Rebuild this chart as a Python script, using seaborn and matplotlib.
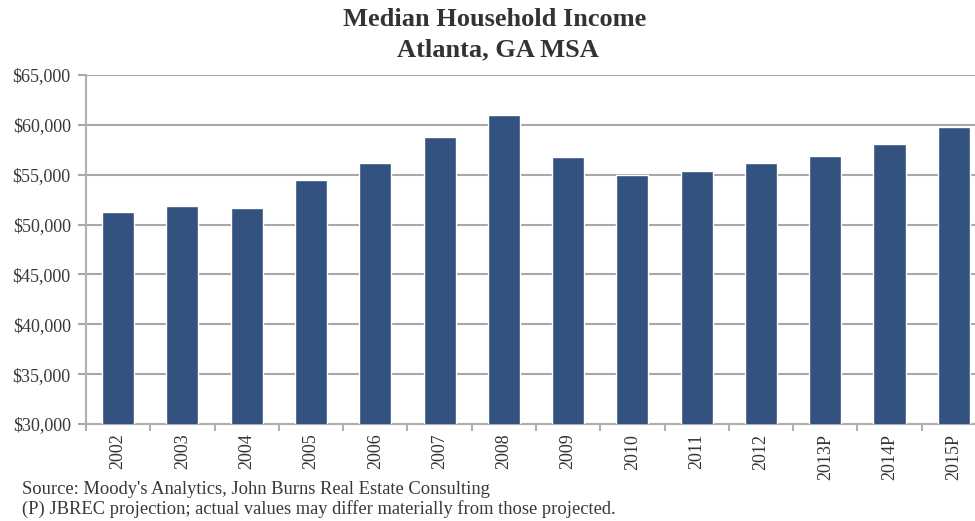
import matplotlib
matplotlib.use("Agg")
import matplotlib.pyplot as plt
import matplotlib.ticker as mticker
import seaborn as sns
import pandas as pd
import numpy as np

# Данные
years = ['2002', '2003', '2004', '2005', '2006', '2007', '2008',
         '2009', '2010', '2011', '2012', '2013P', '2014P', '2015P']
income = [51300, 51900, 51700, 54500, 56200, 58800, 61000,
          56800, 55000, 55400, 56200, 56900, 58100, 59800]

df = pd.DataFrame({'year': years, 'income': income})

sns.set_style('white')
plt.rcParams['font.family'] = ['Liberation Serif', 'DejaVu Serif']

fig = plt.figure(figsize=(9.75, 5.21), dpi=100)
ax = fig.add_axes([86 / 975, 1 - 424 / 521, 900 / 975, 349 / 521])

sns.barplot(data=df, x='year', y='income', color='#33527f', width=0.5,
            saturation=1, ax=ax, zorder=3)

ax.set_ylim(30000, 65000)
ax.set_xlim(-0.5, len(years) - 0.5)
ax.yaxis.set_major_locator(mticker.MultipleLocator(5000))
ax.yaxis.set_major_formatter(mticker.FuncFormatter(lambda v, p: f'${v:,.0f}'))
ax.yaxis.grid(True, color='#a8a8a8', linewidth=1.5, zorder=0)
ax.set_axisbelow(True)

ax.set_xlabel('')
ax.set_ylabel('')
for s in ['top', 'right']:
    ax.spines[s].set_visible(False)
for s in ['left', 'bottom']:
    ax.spines[s].set_color('#b0b0b0')
    ax.spines[s].set_linewidth(1.5)

# деления между столбцами
ax.set_xticks(np.arange(len(years)))
ax.set_xticklabels(years, rotation=90, fontsize=13, color='#333333')
ax.set_xticks(np.arange(len(years) + 1) - 0.5, minor=True)
ax.tick_params(axis='x', which='major', length=0, pad=7)
ax.tick_params(axis='x', which='minor', length=5, width=1.5, color='#b0b0b0',
               direction='out', bottom=True)
ax.tick_params(axis='y', length=6, width=1.5, color='#a8a8a8', left=True,
               labelsize=13, labelcolor='#383838', pad=5)

fig.text(495 / 975, 1 - 20 / 521, 'Median Household Income', ha='center',
         va='center', fontsize=19, fontweight='bold', color='#333333')
fig.text(498 / 975, 1 - 50 / 521, 'Atlanta, GA MSA', ha='center',
         va='center', fontsize=19, fontweight='bold', color='#333333')

fig.text(22 / 975, 1 - 489 / 521, "Source: Moody's Analytics, John Burns Real Estate Consulting",
         ha='left', va='center', fontsize=13.3, color='#383838')
fig.text(22 / 975, 1 - 509 / 521, '(P) JBREC projection; actual values may differ materially from those projected.',
         ha='left', va='center', fontsize=13.3, color='#383838')

fig.savefig('out.png', dpi=100)
